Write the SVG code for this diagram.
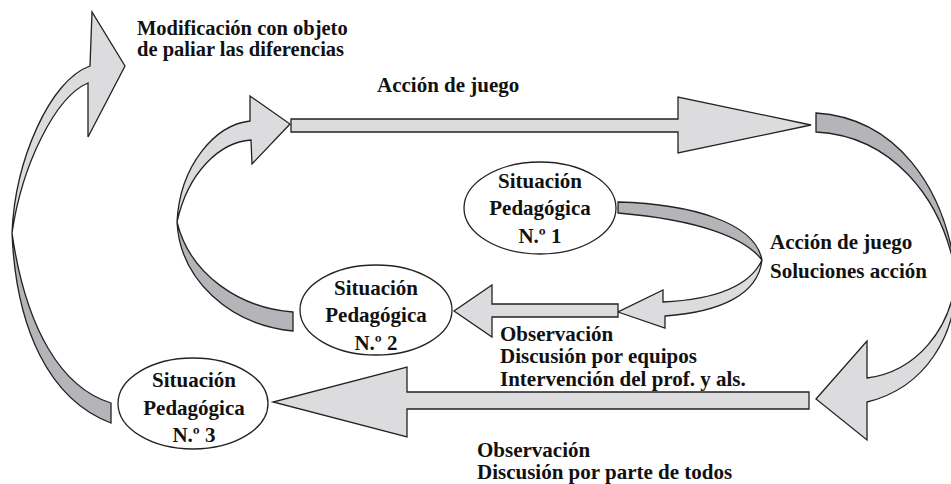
<svg xmlns="http://www.w3.org/2000/svg" width="951" height="484" viewBox="0 0 951 484">
<style>
.l{fill:#dcdcde;stroke:#222;stroke-width:1.3;stroke-linejoin:miter}
.d{fill:#b4b4b9;stroke:#222;stroke-width:1.3}
.n{fill:#fff;stroke:#222;stroke-width:1.3}
text{font-family:'Liberation Serif','Times New Roman',serif;font-weight:700;font-size:21px;fill:#111}
.c{text-anchor:middle}
</style>
<rect width="951" height="484" fill="#fff"/>
<g id="connectors">
  <path class="d" d="M12,233 C16,330 50,400 111,423 L111,403 C62,388 26,330 12,233 Z"/>
  <path class="l" d="M12,233 C15,160 50,80 90,66 L92,12 L125,66 L88,137 L88,83 C55,97 22,165 12,233 Z"/>
  <path class="d" d="M177,222 C180,280 230,325 293,331 L293,312 C240,308 190,275 177,222 Z"/>
  <path class="l" d="M177,222 C180,165 215,125 250,121 L250,96 L290,124 L252,164 L251,140 C220,142 188,172 177,222 Z"/>
  <path class="l" d="M291,119 L678,119 L678,97 L811,125 L678,153 L678,132 L291,132 Z"/>
  <path class="d" d="M816,113 C895,118 945,185 956,275 C942,195 890,136 816,132 Z"/>
  <path class="l" d="M956,275 C952,330 915,372 867,378 L867,341 L816,399 L867,440 L867,402 C925,388 958,335 956,275 Z"/>
  <path class="d" d="M618,202 C690,204 755,222 762,260 C745,238 700,220 618,213 Z"/>
  <path class="l" d="M762,260 C748,290 705,300 663,302 L663,290 L618,312 L665,328 L665,316 C720,312 758,295 762,260 Z"/>
  <path class="l" d="M618,304 L618,317 L492,317 L492,337 L454,311 L492,285 L492,304 Z"/>
  <path class="l" d="M809,392 L809,409 L407,409 L407,437 L273,402 L407,367 L407,392 Z"/>
</g>
<g id="sp1" font-family="Liberation Serif" font-weight="bold">
  <ellipse class="n" cx="540" cy="208" rx="76" ry="46"/>
  <text class="c" x="540" y="188">Situación</text>
  <text class="c" x="540" y="215">Pedagógica</text>
  <text class="c" x="540" y="243">N.º 1</text>
</g>
<g id="sp2" font-family="Liberation Serif" font-weight="bold">
  <ellipse class="n" cx="376" cy="310" rx="76" ry="45"/>
  <text class="c" x="376" y="295">Situación</text>
  <text class="c" x="376" y="322">Pedagógica</text>
  <text class="c" x="376" y="350">N.º 2</text>
</g>
<g id="sp3" font-family="Liberation Serif" font-weight="bold">
  <ellipse class="n" cx="193" cy="403.5" rx="75" ry="45.5"/>
  <text class="c" x="194" y="387">Situación</text>
  <text class="c" x="194" y="415">Pedagógica</text>
  <text class="c" x="194" y="442">N.º 3</text>
</g>
<g id="labels" font-family="Liberation Serif" font-weight="bold">
  <text x="137" y="35" style="font-size:20.5px">Modificación con objeto</text>
  <text x="137" y="56" style="font-size:20.5px">de paliar las diferencias</text>
  <text x="377" y="92">Acción de juego</text>
  <text x="770" y="249">Acción de juego</text>
  <text x="770" y="278">Soluciones acción</text>
  <text x="500" y="341">Observación</text>
  <text x="500" y="363">Discusión por equipos</text>
  <text x="500" y="386">Intervención del prof. y als.</text>
  <text x="477" y="457">Observación</text>
  <text x="477" y="479">Discusión por parte de todos</text>
</g>
</svg>
